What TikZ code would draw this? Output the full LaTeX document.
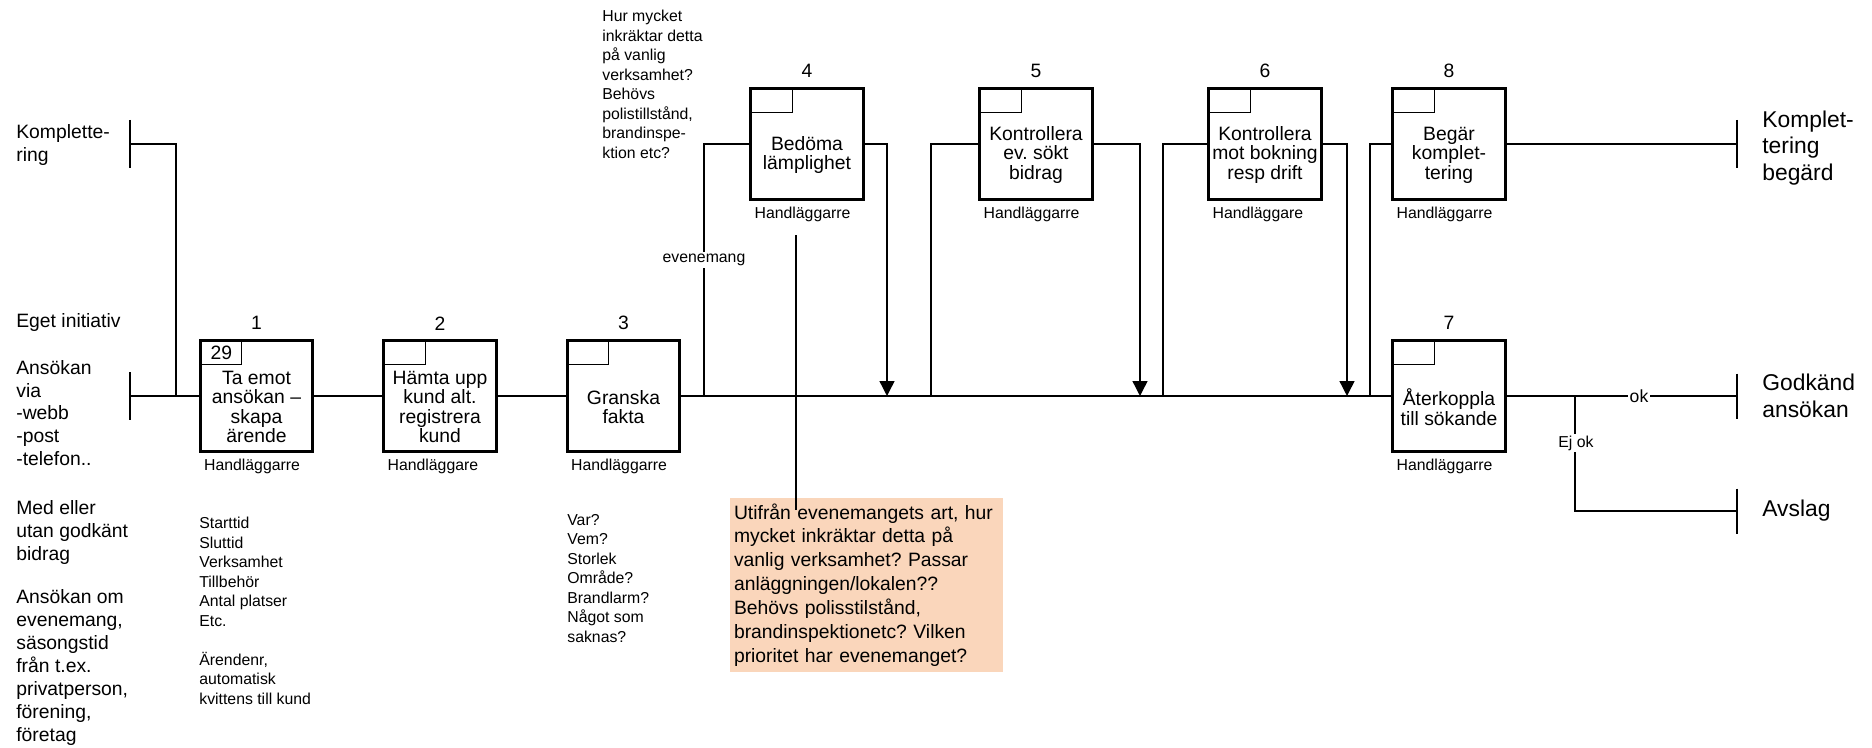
\documentclass[tikz,border=0pt]{standalone}
\usepackage{fontspec}
\setmainfont{Liberation Sans}
\usetikzlibrary{arrows.meta}
\definecolor{peach}{RGB}{250,214,187}
\frenchspacing

\begin{document}
\begin{tikzpicture}[
  proc/.style={rectangle, draw, line width=1.9pt, minimum width=2.25cm, minimum height=2.23cm, outer sep=0pt},
  corner/.style={rectangle, draw, line width=0.7pt, minimum width=0.82cm, minimum height=0.48cm, inner sep=0pt, anchor=north west, font=\fontsize{11}{11}\selectfont},
  ptext/.style={align=center, inner sep=0pt, font=\fontsize{11}{11.1}\selectfont},
  num/.style={inner sep=0pt, font=\fontsize{11}{13}\selectfont},
  role/.style={anchor=west, inner sep=0pt, font=\fontsize{9}{11}\selectfont},
  small/.style={align=left, anchor=west, inner sep=0pt, font=\fontsize{9}{11.1}\selectfont},
  big/.style={align=left, anchor=west, inner sep=0pt, font=\fontsize{11}{13}\selectfont},
  bigger/.style={align=left, anchor=west, inner sep=0pt, font=\fontsize{13}{15.3}\selectfont},
  note/.style={rectangle, fill=peach, align=left, text width=5.3cm, inner xsep=0.08cm, minimum height=3.44cm, font=\fontsize{11}{13.6}\selectfont},
  tag/.style={fill=white, inner sep=1pt},
  line/.style={line width=0.8pt},
  main/.style={line width=1.2pt},
  bar/.style={line width=0.9pt},
  flow/.style={line width=0.8pt, -{Triangle[width=0.3cm,length=0.3cm]}}
]
  \useasboundingbox (0,0) rectangle (37.44,14.94);

  % LEFT TEXTS
  \node [big] (kompl) at (0.32,12.04) {Komplette-\\ring};
  \node [big] (eget) at (0.32,8.50) {Eget initiativ};
  \node [big] (via) at (0.32,6.68) {Ansökan\\via\\-webb\\-post\\-telefon..};
  \node [big] (med) at (0.32,4.29) {Med eller\\utan godkänt\\bidrag};
  \node [big] (om) at (0.32,1.59) {Ansökan om\\evenemang,\\säsongstid\\från t.ex.\\privatperson,\\förening,\\företag};

  \coordinate (kin) at (2.6,12.06);
  \coordinate (in) at (2.6,7.02);
  \coordinate (kj) at (3.52,7.02);
  \draw [bar] ([yshift=0.48cm]kin) -- ([yshift=-0.48cm]kin);
  \draw [bar] ([yshift=0.48cm]in) -- ([yshift=-0.48cm]in);

  % BOTTOM ROW
  \node [proc] (box1) at (5.13,7.02) {};
  \node [corner] (corner1) at (box1.north west) {29};
  \node [ptext] (txt1) at ([yshift=-0.22cm]box1.center) {Ta emot\\ansökan –\\skapa\\ärende};
  \node [num] (num1) at ([yshift=0.34cm]box1.north) {1};
  \node [role] (role1) at ([shift={(0.07,-0.3)}]box1.south west) {Handläggarre};

  \node [proc] (box2) at (8.80,7.02) {};
  \node [corner] (corner2) at (box2.north west) {};
  \node [ptext] (txt2) at ([yshift=-0.22cm]box2.center) {Hämta upp\\kund alt.\\registrera\\kund};
  \node [num] (num2) at ([yshift=0.34cm]box2.north) {2};
  \node [role] (role2) at ([shift={(0.07,-0.3)}]box2.south west) {Handläggare};

  \node [proc] (box3) at (12.47,7.02) {};
  \node [corner] (corner3) at (box3.north west) {};
  \node [ptext] (txt3) at ([yshift=-0.22cm]box3.center) {Granska\\fakta};
  \node [num] (num3) at ([yshift=0.34cm]box3.north) {3};
  \node [role] (role3) at ([shift={(0.07,-0.3)}]box3.south west) {Handläggarre};

  \node [proc] (box7) at (28.98,7.02) {};
  \node [corner] (corner7) at (box7.north west) {};
  \node [ptext] (txt7) at ([yshift=-0.22cm]box7.center) {Återkoppla\\till sökande};
  \node [num] (num7) at ([yshift=0.34cm]box7.north) {7};
  \node [role] (role7) at ([shift={(0.07,-0.3)}]box7.south west) {Handläggarre};

  % TOP ROW
  \node [proc] (box4) at (16.14,12.06) {};
  \node [corner] (corner4) at (box4.north west) {};
  \node [ptext] (txt4) at ([yshift=-0.22cm]box4.center) {Bedöma\\lämplighet};
  \node [num] (num4) at ([yshift=0.34cm]box4.north) {4};
  \node [role] (role4) at ([shift={(0.07,-0.3)}]box4.south west) {Handläggarre};

  \node [proc] (box5) at (20.72,12.06) {};
  \node [corner] (corner5) at (box5.north west) {};
  \node [ptext] (txt5) at ([yshift=-0.22cm]box5.center) {Kontrollera\\ev. sökt\\bidrag};
  \node [num] (num5) at ([yshift=0.34cm]box5.north) {5};
  \node [role] (role5) at ([shift={(0.07,-0.3)}]box5.south west) {Handläggarre};

  \node [proc] (box6) at (25.30,12.06) {};
  \node [corner] (corner6) at (box6.north west) {};
  \node [ptext] (txt6) at ([yshift=-0.22cm]box6.center) {Kontrollera\\mot bokning\\resp drift};
  \node [num] (num6) at ([yshift=0.34cm]box6.north) {6};
  \node [role] (role6) at ([shift={(0.07,-0.3)}]box6.south west) {Handläggare};

  \node [proc] (box8) at (28.98,12.06) {};
  \node [corner] (corner8) at (box8.north west) {};
  \node [ptext] (txt8) at ([yshift=-0.22cm]box8.center) {Begär\\komplet-\\tering};
  \node [num] (num8) at ([yshift=0.34cm]box8.north) {8};
  \node [role] (role8) at ([shift={(0.07,-0.3)}]box8.south west) {Handläggarre};

  % NOTES
  \node [small] (data1) at (3.98,2.72) {Starttid\\Sluttid\\Verksamhet\\Tillbehör\\Antal platser\\Etc.\\[11.1pt]Ärendenr,\\automatisk\\kvittens till kund};
  \node [small] (data3) at (11.34,3.37) {Var?\\Vem?\\Storlek\\Område?\\Brandlarm?\\Något som\\saknas?};
  \node [small] (data4) at (12.04,13.25) {Hur mycket\\inkräktar detta\\på vanlig\\verksamhet?\\Behövs\\polistillstånd,\\brandinspe-\\ktion etc?};
  \node [note] (note) at (17.33,3.24) {Utifrån evenemangets art, hur\\mycket inkräktar detta på\\vanlig verksamhet? Passar\\anläggningen/lokalen??\\Behövs polisstilstånd,\\brandinspektionetc? Vilken\\prioritet har evenemanget?};
  \coordinate (q4) at (15.92,10.24);
  \draw [line width=0.6pt, shorten >=-0.26cm] (q4) -- (q4 |- note.north);

  % MAIN LINE
  \draw [line] (kin) -| (kj);
  \draw [line] (in) -- (box1.west);
  \draw [line] (box1.east) -- (box2.west);
  \draw [line] (box2.east) -- (box3.west);
  \draw [main] (box3.east) -- (box7.west);

  % LOOPS
  \coordinate (j4) at (14.08,7.02);
  \coordinate (a4) at (17.74,7.02);
  \draw [line] (j4) |- (box4.west);
  \draw [flow] (box4.east) -| (a4);
  \node [tag, font=\fontsize{9}{11}\selectfont] (ev) at (14.08,9.74) {evenemang};

  \coordinate (j5) at (18.62,7.02);
  \coordinate (a5) at (22.80,7.02);
  \draw [line] (j5) |- (box5.west);
  \draw [flow] (box5.east) -| (a5);

  \coordinate (j6) at (23.26,7.02);
  \coordinate (a6) at (26.94,7.02);
  \draw [line] (j6) |- (box6.west);
  \draw [flow] (box6.east) -| (a6);

  \coordinate (j8) at (27.40,7.02);
  \draw [line] (j8) |- (box8.west);

  % RIGHT SIDE
  \coordinate (out8) at (34.74,12.06);
  \coordinate (okout) at (34.74,7.02);
  \coordinate (j7) at (31.50,7.02);
  \coordinate (nok) at (34.74,4.72);
  \draw [line] (box8.east) -- (out8);
  \draw [main] (box7.east) -- (okout);
  \draw [line] (j7) |- (nok);
  \draw [bar] ([yshift=0.48cm]out8) -- ([yshift=-0.48cm]out8);
  \draw [bar] ([yshift=0.45cm]okout) -- ([yshift=-0.45cm]okout);
  \draw [bar] ([yshift=0.45cm]nok) -- ([yshift=-0.45cm]nok);
  \node [tag, font=\fontsize{10}{12}\selectfont] (ok) at (32.78,7.02) {ok};
  \node [tag, font=\fontsize{9}{11}\selectfont] (ejok) at (31.52,6.08) {Ej ok};

  \node [bigger] (begard) at (35.24,11.98) {Komplet-\\tering\\begärd};
  \node [bigger] (godk) at (35.24,7.03) {Godkänd\\ansökan};
  \node [bigger] (avslag) at (35.24,4.72) {Avslag};

\end{tikzpicture}
\end{document}
